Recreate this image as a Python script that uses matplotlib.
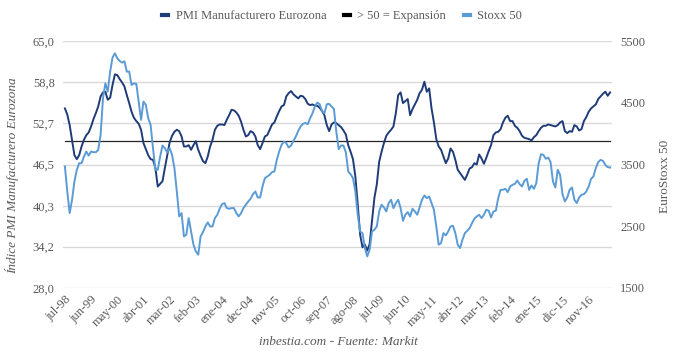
import numpy as np
from matplotlib import pyplot as plt
from matplotlib.lines import Line2D
from matplotlib.transforms import ScaledTranslation

plt.rcParams["font.family"] = ["Liberation Serif", "DejaVu Serif"]
plt.rcParams["figure.dpi"] = 100

# PMI manufacturero eurozona, mensual jul-98 .. ago-17
pmi = [
    54.9, 54.0, 52.4, 50.2, 47.9, 47.3, 47.9, 49.2, 50.2, 50.9,
    51.3, 52.2, 53.3, 54.2, 55.2, 56.7, 57.3, 57.4, 56.2, 56.5,
    58.4, 60.0, 59.9, 59.3, 58.8, 58.2, 56.9, 55.7, 54.4, 53.5,
    53.0, 52.6, 51.7, 49.7, 48.8, 47.9, 47.3, 47.2, 46.0, 43.2,
    43.6, 44.0, 46.0, 47.9, 49.8, 50.8, 51.4, 51.7, 51.5, 50.7,
    49.2, 49.2, 49.4, 48.7, 49.4, 50.0, 48.7, 47.8, 47.0, 46.7,
    47.7, 49.2, 50.2, 51.7, 52.3, 52.5, 52.5, 52.4, 53.2, 53.9,
    54.7, 54.6, 54.3, 53.8, 52.9, 51.7, 50.7, 50.9, 51.5, 51.3,
    50.7, 49.4, 48.8, 49.7, 50.7, 50.9, 51.7, 52.5, 52.8, 53.7,
    54.5, 55.2, 55.4, 56.7, 57.2, 57.5, 57.0, 56.7, 56.4, 56.8,
    56.7, 56.3, 55.6, 55.4, 55.5, 55.3, 55.3, 55.0, 54.5, 53.9,
    52.4, 51.5, 52.5, 52.8, 52.7, 52.4, 52.1, 51.6, 51.0, 49.4,
    48.4, 47.3, 44.7, 40.5, 36.0, 34.1, 34.5, 33.6, 34.6, 38.0,
    41.5, 43.5, 46.9, 48.4, 49.7, 50.8, 51.3, 51.7, 52.2, 54.2,
    56.9, 57.3, 55.7, 56.0, 56.3, 53.9, 54.8, 55.5, 56.2, 57.2,
    57.7, 58.9, 57.4, 57.9, 54.9, 52.8, 50.3, 49.2, 48.7, 47.7,
    46.7, 47.4, 48.9, 48.4, 47.2, 45.7, 45.2, 44.7, 44.2, 45.0,
    45.9, 46.1, 46.7, 46.5, 48.0, 47.4, 46.6, 47.5, 48.5, 49.4,
    50.9, 51.3, 51.4, 51.8, 52.8, 53.5, 53.8, 53.0, 53.0, 52.3,
    52.0, 51.5, 50.8, 50.5, 50.4, 50.3, 50.1, 50.6, 50.9, 51.5,
    52.0, 52.3, 52.3, 52.5, 52.4, 52.3, 52.2, 52.4, 52.8, 53.0,
    51.5, 51.2, 51.5, 51.4, 52.4, 52.2, 51.6, 51.8, 53.0, 53.6,
    54.4, 54.9, 55.2, 55.5, 56.3, 56.7, 57.1, 57.4, 56.8, 57.3,
]

# EuroStoxx 50, mismo periodo
stoxx = [
    3468, 3063, 2713, 2928, 3225, 3414, 3521, 3521, 3629, 3710,
    3645, 3710, 3699, 3699, 3737, 3980, 4573, 4815, 4680, 5004,
    5230, 5301, 5220, 5177, 5150, 5171, 5004, 5004, 4788, 4815,
    4805, 4519, 4222, 4519, 4465, 4249, 4141, 3764, 3414, 3414,
    3629, 3807, 3764, 3694, 3764, 3656, 3441, 3063, 2659, 2713,
    2336, 2363, 2632, 2416, 2201, 2093, 2039, 2336, 2406, 2497,
    2562, 2497, 2497, 2632, 2686, 2783, 2858, 2875, 2794, 2783,
    2794, 2794, 2713, 2659, 2713, 2794, 2848, 2902, 2945, 3020,
    3063, 2966, 2966, 3144, 3279, 3306, 3333, 3376, 3387, 3575,
    3710, 3818, 3872, 3845, 3775, 3807, 3883, 3953, 4044, 4115,
    4158, 4174, 4152, 4249, 4330, 4438, 4503, 4476, 4368, 4330,
    4476, 4481, 4438, 4400, 4034, 3748, 3807, 3807, 3699, 3387,
    3344, 3279, 3063, 2686, 2416, 2389, 2147, 2012, 2120, 2416,
    2443, 2497, 2740, 2848, 2805, 2740, 2875, 2929, 2794, 2875,
    2929, 2794, 2589, 2686, 2729, 2659, 2783, 2740, 2686, 2805,
    2929, 2999, 2955, 2982, 2875, 2767, 2497, 2201, 2228, 2389,
    2352, 2416, 2497, 2508, 2389, 2201, 2147, 2282, 2389, 2427,
    2470, 2551, 2621, 2659, 2686, 2632, 2686, 2767, 2751, 2643,
    2740, 2751, 2955, 3090, 3090, 3106, 3052, 3144, 3171, 3187,
    3241, 3182, 3144, 3236, 3268, 3090, 3160, 3106, 3198, 3521,
    3667, 3656, 3592, 3613, 3538, 3225, 3128, 3414, 3333, 3020,
    2902, 2966, 3090, 3128, 2929, 2875, 2966, 3009, 3020, 3063,
    3144, 3268, 3306, 3441, 3538, 3575, 3559, 3494, 3457, 3451,
]

expansion = [50.0] * len(pmi)

tick_labels = ["jul-98", "jun-99", "may-00", "abr-01", "mar-02", "feb-03", "ene-04",
               "dec-04", "nov-05", "oct-06", "sep-07", "ago-08", "jul-09", "jun-10",
               "may-11", "abr-12", "mar-13", "feb-14", "ene-15", "dic-15", "nov-16"]
left_ticks = [28.0, 34.2, 40.3, 46.5, 52.7, 58.8, 65.0]
right_ticks = [1500, 2500, 3500, 4500, 5500]

c_pmi = "#1f3c78"
c_stoxx = "#5b9bd5"
c_txt = "#595959"

mt = np.arange(len(pmi))

fig = plt.figure(figsize=(6.8, 3.54))
ax1 = fig.add_axes([63 / 680, 66 / 354, 549 / 680, 247 / 354])
ax2 = ax1.twinx()

ax1.plot(mt, pmi, color=c_pmi, lw=1.4, zorder=3)
ax1.plot(mt, expansion, color="#262626", lw=0.9, zorder=2)
ax2.plot(mt, stoxx, color=c_stoxx, lw=1.4, zorder=3)

ax1.set_xlim(-0.8, len(pmi) - 0.2)
ax1.set_ylim(28, 65)
ax2.set_ylim(1500, 5500)

ax1.set_yticks(left_ticks)
ax1.set_yticklabels([("%.1f" % v).replace(".", ",") for v in left_ticks])
ax2.set_yticks(right_ticks)
ax2.set_yticklabels([str(v) for v in right_ticks])
ax1.yaxis.grid(True, color="#d9d9d9", lw=1.0)
ax1.set_axisbelow(True)

ax1.set_xticks(mt[::11])
ax1.set_xticklabels(tick_labels, rotation=45, ha="right", va="top",
                    rotation_mode="anchor")
shift = ScaledTranslation(7 / 100, -1 / 100, fig.dpi_scale_trans)
for lbl in ax1.get_xticklabels():
    lbl.set_transform(lbl.get_transform() + shift)

for a in (ax1, ax2):
    for s in a.spines.values():
        s.set_visible(False)
    a.tick_params(length=0, labelsize=9, colors=c_txt)
ax1.tick_params(axis="y", pad=6)
ax2.tick_params(axis="y", pad=6)
ax1.tick_params(axis="x", pad=4)

fig.text(0.018, 1 - 176 / 354, "Índice PMI Manufacturero Eurozona", rotation=90,
         style="italic", fontsize=9.5, color=c_txt, ha="center", va="center")
fig.text(0.978, 1 - 176 / 354, "EuroStoxx 50", rotation=90,
         fontsize=9.5, color=c_txt, ha="center", va="center")
fig.text(0.497, 1 - 342 / 354, "inbestia.com - Fuente: Markit", style="italic",
         fontsize=9.5, color=c_txt, ha="center", va="center")

handles = [Line2D([], [], color=c_pmi, lw=3),
           Line2D([], [], color="black", lw=3),
           Line2D([], [], color=c_stoxx, lw=3)]
fig.legend(handles, ["PMI Manufacturero Eurozona", "> 50 = Expansión", "Stoxx 50"],
           loc="center", bbox_to_anchor=(0.503, 1 - 16 / 354), ncol=3, frameon=False,
           fontsize=9, handlelength=0.5, handletextpad=0.6, columnspacing=1.4,
           labelcolor=c_txt)

plt.savefig("out.png", dpi=100)
